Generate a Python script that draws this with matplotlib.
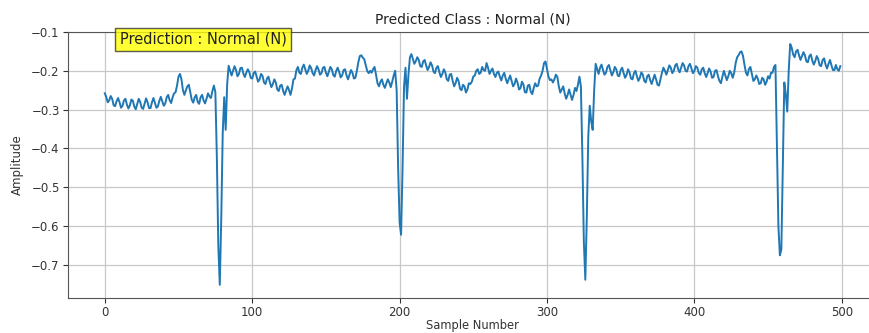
import numpy as np
import matplotlib
matplotlib.use("Agg")
import matplotlib.pyplot as plt

title_text = "Predicted Class : Normal (N)"
prediction_text = "Prediction : Normal (N)"
x_label = "Sample Number"
y_label = "Amplitude"
x_ticks = [0, 100, 200, 300, 400, 500]
y_ticks = [-0.7, -0.6, -0.5, -0.4, -0.3, -0.2, -0.1]

amplitude = [
    -0.258, -0.268, -0.281, -0.276, -0.265, -0.272, -0.289, -0.291, -0.278, -0.270,
    -0.281, -0.295, -0.290, -0.276, -0.272, -0.287, -0.297, -0.289, -0.274, -0.277,
    -0.292, -0.299, -0.286, -0.272, -0.280, -0.295, -0.298, -0.284, -0.271, -0.281,
    -0.296, -0.296, -0.281, -0.270, -0.283, -0.295, -0.292, -0.277, -0.267, -0.279,
    -0.290, -0.284, -0.268, -0.262, -0.276, -0.283, -0.268, -0.258, -0.255, -0.238,
    -0.215, -0.208, -0.222, -0.250, -0.262, -0.250, -0.240, -0.236, -0.255, -0.275,
    -0.282, -0.268, -0.262, -0.280, -0.285, -0.268, -0.262, -0.276, -0.284, -0.272,
    -0.258, -0.266, -0.270, -0.252, -0.238, -0.255, -0.420, -0.650, -0.751, -0.580,
    -0.360, -0.268, -0.352, -0.235, -0.187, -0.200, -0.212, -0.200, -0.188, -0.198,
    -0.214, -0.208, -0.193, -0.192, -0.207, -0.216, -0.205, -0.196, -0.203, -0.218,
    -0.220, -0.206, -0.202, -0.215, -0.228, -0.222, -0.208, -0.213, -0.230, -0.234,
    -0.220, -0.215, -0.230, -0.242, -0.234, -0.222, -0.230, -0.248, -0.252, -0.238,
    -0.236, -0.252, -0.262, -0.250, -0.240, -0.250, -0.262, -0.245, -0.222, -0.220,
    -0.198, -0.190, -0.205, -0.208, -0.192, -0.184, -0.196, -0.208, -0.200, -0.186,
    -0.193, -0.206, -0.212, -0.198, -0.188, -0.197, -0.210, -0.206, -0.192, -0.190,
    -0.205, -0.214, -0.202, -0.190, -0.196, -0.211, -0.215, -0.200, -0.192, -0.203,
    -0.217, -0.212, -0.198, -0.196, -0.212, -0.222, -0.210, -0.198, -0.205, -0.220,
    -0.218, -0.200, -0.178, -0.162, -0.160, -0.166, -0.170, -0.185, -0.200, -0.206,
    -0.200, -0.205, -0.196, -0.190, -0.210, -0.232, -0.240, -0.228, -0.222, -0.236,
    -0.244, -0.232, -0.222, -0.230, -0.242, -0.228, -0.212, -0.200, -0.250, -0.450,
    -0.590, -0.622, -0.450, -0.240, -0.192, -0.272, -0.210, -0.165, -0.157, -0.170,
    -0.182, -0.175, -0.165, -0.172, -0.188, -0.190, -0.176, -0.172, -0.186, -0.198,
    -0.190, -0.178, -0.186, -0.202, -0.206, -0.192, -0.188, -0.204, -0.216, -0.208,
    -0.196, -0.204, -0.222, -0.226, -0.210, -0.208, -0.226, -0.240, -0.232, -0.218,
    -0.226, -0.246, -0.250, -0.236, -0.240, -0.256, -0.248, -0.232, -0.234, -0.228,
    -0.215, -0.212, -0.200, -0.196, -0.208, -0.205, -0.190, -0.198, -0.200, -0.180,
    -0.192, -0.208, -0.200, -0.194, -0.208, -0.216, -0.205, -0.202, -0.215, -0.225,
    -0.212, -0.205, -0.220, -0.232, -0.222, -0.212, -0.226, -0.240, -0.234, -0.220,
    -0.230, -0.248, -0.245, -0.228, -0.235, -0.255, -0.256, -0.238, -0.236, -0.254,
    -0.260, -0.244, -0.232, -0.240, -0.238, -0.220, -0.212, -0.200, -0.180, -0.176,
    -0.195, -0.215, -0.224, -0.222, -0.230, -0.222, -0.210, -0.215, -0.240, -0.256,
    -0.248, -0.240, -0.258, -0.272, -0.262, -0.248, -0.262, -0.275, -0.262, -0.244,
    -0.252, -0.236, -0.215, -0.240, -0.420, -0.640, -0.738, -0.580, -0.370, -0.290,
    -0.330, -0.352, -0.250, -0.182, -0.195, -0.208, -0.192, -0.184, -0.198, -0.210,
    -0.205, -0.190, -0.185, -0.198, -0.212, -0.204, -0.190, -0.196, -0.212, -0.214,
    -0.198, -0.192, -0.206, -0.218, -0.210, -0.196, -0.204, -0.220, -0.222, -0.206,
    -0.200, -0.214, -0.226, -0.218, -0.204, -0.210, -0.226, -0.230, -0.214, -0.210,
    -0.224, -0.234, -0.222, -0.210, -0.222, -0.236, -0.238, -0.222, -0.205, -0.192,
    -0.200, -0.210, -0.198, -0.186, -0.192, -0.206, -0.200, -0.186, -0.182, -0.196,
    -0.204, -0.192, -0.180, -0.186, -0.200, -0.202, -0.188, -0.182, -0.194, -0.206,
    -0.200, -0.188, -0.192, -0.206, -0.210, -0.196, -0.192, -0.206, -0.216, -0.206,
    -0.194, -0.202, -0.218, -0.216, -0.200, -0.198, -0.214, -0.226, -0.232, -0.215,
    -0.200, -0.212, -0.224, -0.214, -0.200, -0.206, -0.218, -0.205, -0.180, -0.165,
    -0.160, -0.152, -0.150, -0.162, -0.185, -0.205, -0.212, -0.195, -0.190, -0.208,
    -0.226, -0.222, -0.212, -0.220, -0.234, -0.232, -0.218, -0.222, -0.236, -0.228,
    -0.214, -0.220, -0.205, -0.205, -0.190, -0.185, -0.400, -0.600, -0.675, -0.660,
    -0.450, -0.230, -0.260, -0.305, -0.200, -0.131, -0.140, -0.158, -0.165, -0.150,
    -0.146, -0.160, -0.172, -0.162, -0.152, -0.160, -0.176, -0.178, -0.162, -0.158,
    -0.174, -0.184, -0.175, -0.162, -0.170, -0.186, -0.188, -0.172, -0.168, -0.184,
    -0.194, -0.182, -0.172, -0.186, -0.198, -0.198, -0.185, -0.196, -0.200, -0.188,
]

samples = np.arange(len(amplitude))

fig = plt.figure(figsize=(8.69, 3.33), dpi=100)
ax = fig.add_axes([0.0783, 0.105, 0.931, 0.799])
ax.plot(samples, amplitude, color="#1f77b4", linewidth=1.4)
ax.set_ylim(-0.785, -0.1)
ax.set_xticks(x_ticks)
ax.set_yticks(y_ticks)
ax.tick_params(labelsize=8.5, colors="#333333", pad=2.5)
ax.grid(True, color="#c8c8c8", linewidth=0.9)
ax.set_axisbelow(True)
for s in ax.spines.values():
    s.set_color("#555555")
ax.set_title(title_text, fontsize=10, color="#222222", pad=6)
ax.set_xlabel(x_label, fontsize=8.3, color="#333333", labelpad=0)
ax.set_ylabel(y_label, fontsize=8.5, color="#333333", labelpad=5)
ax.text(10, -0.119, prediction_text, fontsize=10.5, color="#222222", va="center", ha="left",
        bbox=dict(facecolor="yellow", alpha=0.8, edgecolor="#333333", pad=3),
        clip_on=False, zorder=5)

fig.savefig("out.png", dpi=100)
